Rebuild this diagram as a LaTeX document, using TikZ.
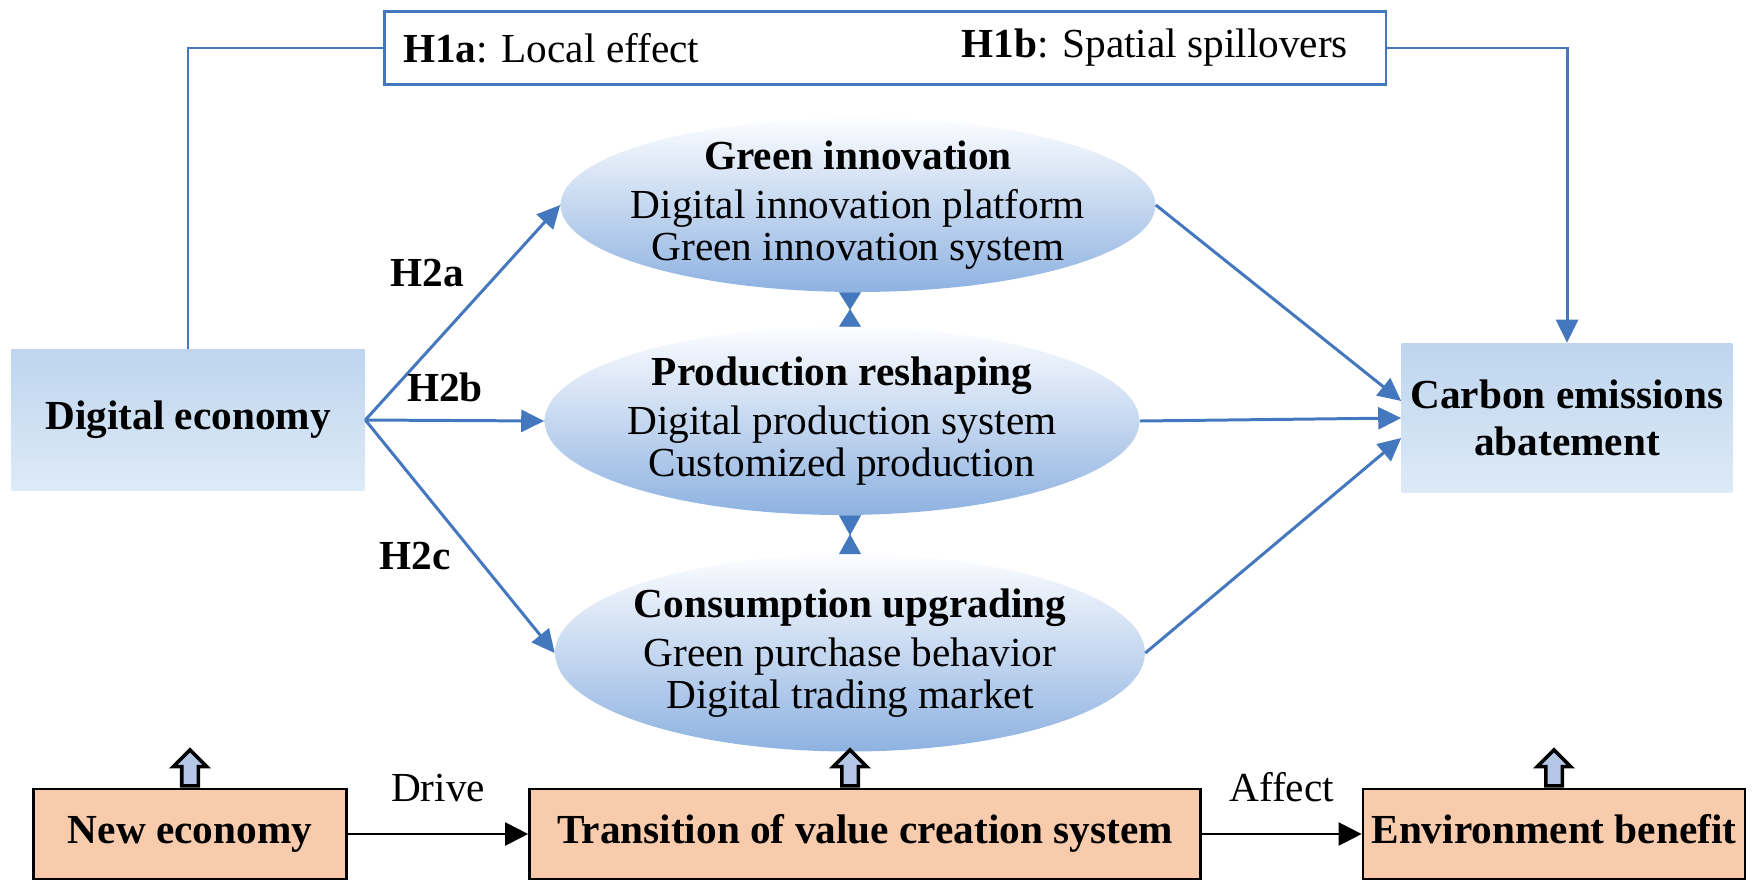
\documentclass[tikz,border=0pt]{standalone}
\usepackage{fontspec}
\setmainfont{Liberation Serif}
\usetikzlibrary{arrows.meta, shapes.geometric, shapes.arrows, positioning, calc}
\definecolor{lineblue}{RGB}{68,120,190}
\definecolor{boxtop}{RGB}{189,213,238}
\definecolor{boxbot}{RGB}{222,234,247}
\definecolor{elltop}{RGB}{252,253,255}
\definecolor{ellmid}{RGB}{214,227,244}
\definecolor{ellbot}{RGB}{142,178,225}
\definecolor{peach}{RGB}{248,203,173}
\definecolor{hollow}{RGB}{180,199,231}
\tikzset{
  bluebox/.style={
    rectangle, top color=boxtop, bottom color=boxbot, align=center,
    font=\fontsize{23.5}{27}\selectfont\bfseries
  },
  peachbox/.style={
    rectangle, draw=black, fill=peach, line width=1.6pt, minimum height=1.8cm,
    text height=16.5pt, text depth=5.2pt,
    font=\fontsize{23.5}{27}\selectfont\bfseries
  },
  hypbox/.style={rectangle, draw=lineblue, fill=white, line width=1.6pt},
  hyptext/.style={inner sep=0pt, font=\fontsize{23.5}{27}\selectfont},
  ell/.style={ellipse, top color=elltop, middle color=ellmid, bottom color=ellbot, inner sep=0pt},
  elltext/.style={align=center, inner sep=0pt, font=\fontsize{23.5}{24}\selectfont},
  hlabel/.style={font=\fontsize{23.5}{27}\selectfont\bfseries},
  flowlabel/.style={inner sep=0pt, font=\fontsize{23.5}{27}\selectfont},
  blueline/.style={draw=lineblue, line width=1.7pt},
  bluearrow/.style={blueline, -{Triangle[length=0.46cm, width=0.44cm]}},
  blackarrow/.style={draw=black, line width=1.2pt, -{Triangle[length=0.46cm, width=0.46cm]}},
  bowtie/.style={
    draw=lineblue, fill=lineblue, line width=0.4pt,
    arrows={Triangle[reversed, length=#1, width=0.44cm]-Triangle[reversed, length=#1, width=0.44cm]}
  },
  uparrow/.style={
    single arrow, draw=black, fill=hollow, line width=2pt, rotate=90,
    minimum height=0.72cm, single arrow head extend=0.17cm,
    inner xsep=0pt, inner ysep=0.13cm
  }
}

\begin{document}
\begin{tikzpicture}[x=0.02cm, y=-0.02cm]
    \useasboundingbox (0,0) rectangle (1760,880);
    % blue boxes and hypotheses
    \node[bluebox, minimum width=7.08cm, minimum height=2.82cm] (de) at (188,420) {Digital economy};
    \node[bluebox, minimum width=6.62cm, minimum height=3cm] (ce) at (1567,418) {Carbon emissions\\abatement};
    \node[hypbox, minimum width=20.04cm, minimum height=1.46cm] (hyp) at (885,48) {};
    \node[hyptext, right=0.4cm of hyp.west] (h1a) {\textbf{H1a}: Local effect};
    \node[hyptext, left=0.78cm of hyp.east] (h1b) {\textbf{H1b}: Spatial spillovers};
    \draw[blueline] (de.north) |- (hyp.west);
    \draw[bluearrow] (hyp.east) -| (ce.north);
    % mechanisms
    \node[ell, minimum width=11.9cm, minimum height=3.48cm] (gi) at (858,205) {};
    \node[ell, minimum width=11.9cm, minimum height=3.76cm] (pr) at (842,421) {};
    \node[ell, minimum width=11.8cm, minimum height=3.94cm] (cu) at (850,653) {};
    \node[elltext] (giT) at (gi) {\textbf{Green innovation}\\[4pt]Digital innovation platform\\Green innovation system};
    \node[elltext] (prT) at (pr) {\textbf{Production reshaping}\\[4pt]Digital production system\\Customized production};
    \node[elltext] (cuT) at (cu) {\textbf{Consumption upgrading}\\[4pt]Green purchase behavior\\Digital trading market};
    \draw[bowtie=0.35cm] (gi.south -| cu.center) -- (pr.north -| cu.center);
    \draw[bowtie=0.4cm] (pr.south -| cu.center) -- (cu.north);
    \draw[bluearrow] (de.east) -- (gi.west);
    \draw[bluearrow] (de.east) -- (pr.west);
    \draw[bluearrow] (de.east) -- (cu.west);
    \draw[bluearrow] (gi.east) -- ($(ce.west)+(0,-17)$);
    \draw[bluearrow] (pr.east) -- (ce.west);
    \draw[bluearrow] (cu.east) -- ($(ce.west)+(0,20)$);
    \node[hlabel] (h2a) at (427,273) {H2a};
    \node[hlabel] (h2b) at (445,387) {H2b};
    \node[hlabel] (h2c) at (415,556) {H2c};
    % bottom chain
    \node[peachbox, minimum width=6.26cm] (ne) at (190,834) {New economy};
    \node[peachbox, minimum width=13.42cm] (tv) at (865,834) {Transition of value creation system};
    \node[peachbox, minimum width=7.64cm] (eb) at (1554,834) {Environment benefit};
    \draw[blackarrow] (ne) -- node[flowlabel, above=0.62cm] (drive) {Drive} (tv);
    \draw[blackarrow] (tv) -- node[flowlabel, above=0.62cm] (affect) {Affect} (eb);
    \node[uparrow, anchor=tail] (upNE) at (ne.north) {};
    \node[uparrow, anchor=tail] (upTV) at (tv.north -| cu.south) {};
    \node[uparrow, anchor=tail] (upEB) at (eb.north) {};
\end{tikzpicture}
\end{document}
